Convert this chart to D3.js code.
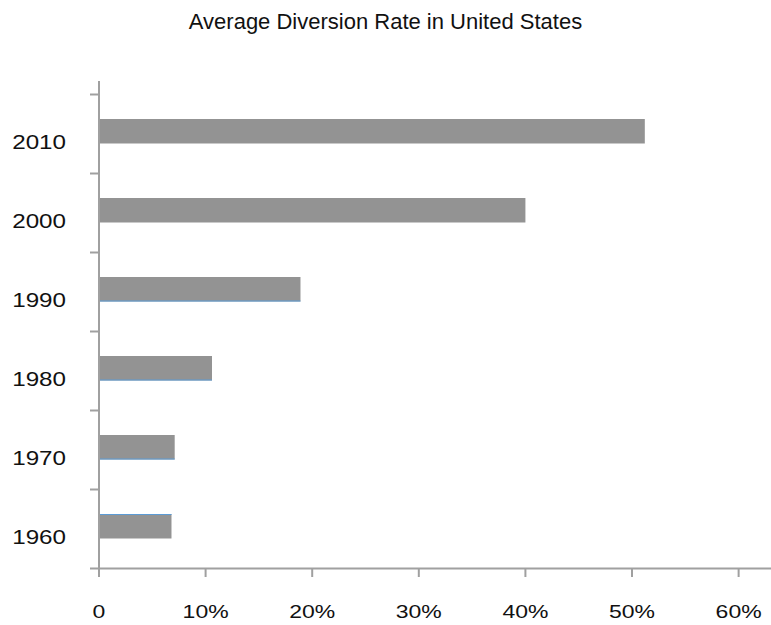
<!DOCTYPE html>
<html>
<head>
<meta charset="utf-8">
<script src="https://cdn.jsdelivr.net/npm/d3@7"></script>
<style>
  html, body { margin: 0; padding: 0; background: #fff; }
  svg { display: block; font-family: "Liberation Sans", Arial, Helvetica, sans-serif; }
</style>
</head>
<body>
<svg id="chart" width="771" height="625"></svg>
<script>
// Decade categories, bottom to top on the chart
const years = ["1960", "1970", "1980", "1990", "2000", "2010"];
// Average diversion rate per decade (fraction)
const rates = [0.068, 0.071, 0.106, 0.189, 0.400, 0.512];
// Which bar edge carries the thin blue rule
const edgeRule = ["top", "bottom", "bottom", "bottom", "none", "none"];
const xTicks = [0, 0.1, 0.2, 0.3, 0.4, 0.5, 0.6];
const tickLabels = ["0", "10%", "20%", "30%", "40%", "50%", "60%"];
const title = "Average Diversion Rate in United States";

const data = years.map((y, i) => ({ year: y, rate: rates[i], rule: edgeRule[i] }));

const svg = d3.select("#chart");
const axisColor = "#a0a0a0";
const barColor = "#939393";
const textColor = "#111";
const stretch = 1.21; // wide label face

const x = d3.scaleLinear().domain([0, 0.63]).range([99, 770.6]);
const y = d3.scaleBand().domain(years.slice().reverse()).range([94.5, 568.5]).padding(0);
const barInset = 24.5, barH = 24.5;

// Title
svg.append("text")
  .attr("x", 385.5).attr("y", 29)
  .attr("text-anchor", "middle")
  .attr("font-size", 22)
  .attr("fill", textColor)
  .text(title);

// Bars
const bars = svg.append("g");
bars.selectAll("rect").data(data).join("rect")
  .attr("x", x(0))
  .attr("y", d => y(d.year) + barInset)
  .attr("width", d => x(d.rate) - x(0))
  .attr("height", barH)
  .attr("fill", barColor);

bars.selectAll("line.rule").data(data.filter(d => d.rule !== "none")).join("line")
  .attr("class", "rule")
  .attr("x1", x(0)).attr("x2", d => x(d.rate))
  .attr("y1", d => y(d.year) + barInset + (d.rule === "top" ? 0.5 : barH - 0.5))
  .attr("y2", d => y(d.year) + barInset + (d.rule === "top" ? 0.5 : barH - 0.5))
  .attr("stroke", "#5b9bd5")
  .attr("stroke-width", 1);

// Y axis: vertical line and category boundary ticks
const yAxis = svg.append("g");
yAxis.append("line")
  .attr("x1", 99).attr("x2", 99)
  .attr("y1", 81).attr("y2", 569)
  .attr("stroke", axisColor).attr("stroke-width", 2);
const bounds = years.map(yr => y(yr));
yAxis.selectAll("line.tk").data(bounds).join("line")
  .attr("class", "tk")
  .attr("x1", 90).attr("x2", 99)
  .attr("y1", d => d).attr("y2", d => d)
  .attr("stroke", axisColor).attr("stroke-width", 2);
yAxis.selectAll("text").data(years).join("text")
  .attr("transform", d => `translate(66,${y(d) + y.bandwidth() / 2 + 15}) scale(${stretch},1)`)
  .attr("text-anchor", "end")
  .attr("font-size", 20)
  .attr("fill", textColor)
  .text(d => d);

// X axis
const xAxis = svg.append("g");
xAxis.append("line")
  .attr("x1", 90).attr("x2", 771)
  .attr("y1", 568.5).attr("y2", 568.5)
  .attr("stroke", axisColor).attr("stroke-width", 2);
xAxis.selectAll("line.tk").data(xTicks).join("line")
  .attr("class", "tk")
  .attr("x1", d => x(d)).attr("x2", d => x(d))
  .attr("y1", 568.5).attr("y2", 577)
  .attr("stroke", axisColor).attr("stroke-width", 2);
xAxis.selectAll("text").data(xTicks).join("text")
  .attr("transform", d => `translate(${x(d)},618) scale(${stretch},1)`)
  .attr("text-anchor", "middle")
  .attr("font-size", 19)
  .attr("fill", textColor)
  .text((d, i) => tickLabels[i]);
</script>
</body>
</html>
